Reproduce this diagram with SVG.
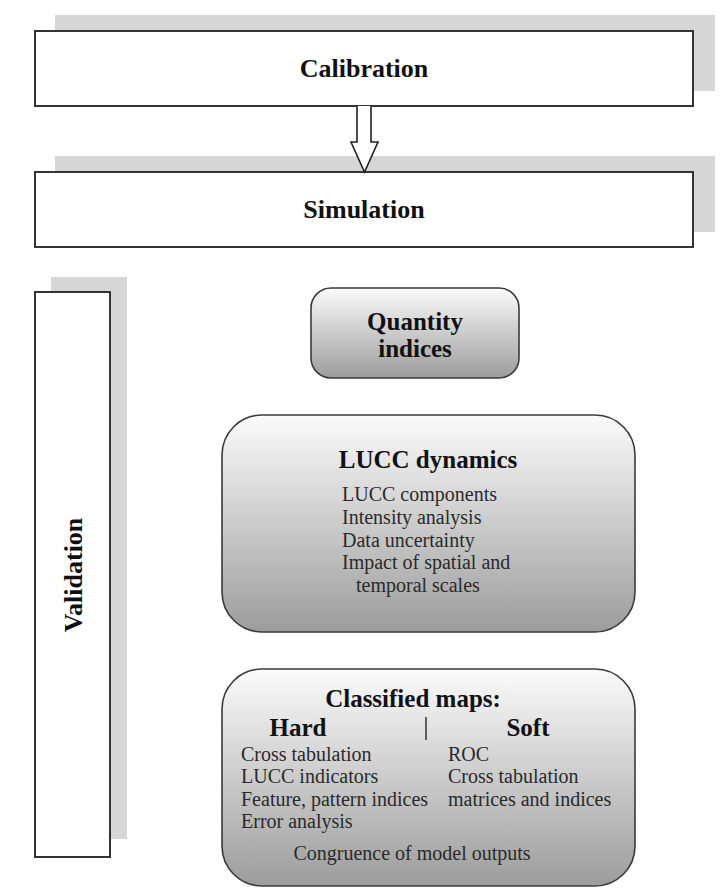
<svg xmlns="http://www.w3.org/2000/svg" width="728" height="891" viewBox="0 0 728 891">
<defs>
<linearGradient id="g" x1="0" y1="0" x2="0" y2="1">
<stop offset="0" stop-color="#fbfbfb"/>
<stop offset="1" stop-color="#9c9c9c"/>
</linearGradient>
<style>
.shadow{fill:#d6d6d6;stroke:none}
.box{fill:#ffffff;stroke:#333333;stroke-width:2}
.rbox{fill:url(#g);stroke:#3a3a3a;stroke-width:1.6}
.b{font-family:"Liberation Serif","Times New Roman",serif;font-weight:bold;fill:#111111}
.r{font-family:"Liberation Serif","Times New Roman",serif;fill:#2a2a2a;font-size:20px}
</style>
</defs>
<rect width="728" height="891" fill="#ffffff"/>
<g id="calibration">
<rect class="shadow" x="55" y="15" width="660" height="76"/>
<rect class="box" x="35" y="31" width="658" height="75"/>
<text class="b" x="364" y="77" font-size="26" text-anchor="middle">Calibration</text>
</g>
<g id="simulation">
<rect class="shadow" x="55" y="156" width="660" height="76"/>
<rect class="box" x="35" y="172" width="658" height="75"/>
<text class="b" x="364" y="218" font-size="26" text-anchor="middle">Simulation</text>
</g>
<g id="connectors">
<path d="M357,106 L357,142 L351,142 L364.5,172 L378,142 L371,142 L371,106" fill="#ffffff" stroke="#222222" stroke-width="1.6" stroke-linejoin="miter"/>
</g>
<g id="validation">
<rect class="shadow" x="51" y="277" width="76" height="562"/>
<rect class="box" x="35" y="292" width="75" height="565"/>
<text class="b" font-size="26" text-anchor="middle" transform="translate(82,575) rotate(-90)">Validation</text>
</g>
<g id="quantity">
<rect class="rbox" x="311" y="288" width="208" height="90" rx="20" ry="20"/>
<text class="b" x="415" y="330" font-size="25" text-anchor="middle">Quantity</text>
<text class="b" x="415" y="357" font-size="25" text-anchor="middle">indices</text>
</g>
<g id="lucc">
<rect class="rbox" x="222" y="415" width="413" height="217" rx="40" ry="40"/>
<text class="b" x="428" y="468" font-size="25" text-anchor="middle">LUCC dynamics</text>
<text class="r" x="342" y="501">LUCC components</text>
<text class="r" x="342" y="524">Intensity analysis</text>
<text class="r" x="342" y="547">Data uncertainty</text>
<text class="r" x="342" y="569">Impact of spatial and</text>
<text class="r" x="356" y="592">temporal scales</text>
</g>
<g id="classified">
<rect class="rbox" x="222" y="669" width="413" height="217" rx="40" ry="40"/>
<text class="b" x="413" y="707" font-size="25" text-anchor="middle">Classified maps:</text>
<text class="b" x="298" y="736" font-size="25" text-anchor="middle">Hard</text>
<line x1="426" y1="717" x2="426" y2="740" stroke="#333333" stroke-width="1.5"/>
<text class="b" x="528" y="736" font-size="25" text-anchor="middle">Soft</text>
<text class="r" x="241" y="761">Cross tabulation</text>
<text class="r" x="241" y="783">LUCC indicators</text>
<text class="r" x="241" y="806">Feature, pattern indices</text>
<text class="r" x="241" y="828">Error analysis</text>
<text class="r" x="448" y="761">ROC</text>
<text class="r" x="448" y="783">Cross tabulation</text>
<text class="r" x="448" y="806">matrices and indices</text>
<text class="r" x="412" y="860" text-anchor="middle">Congruence of model outputs</text>
</g>
</svg>
